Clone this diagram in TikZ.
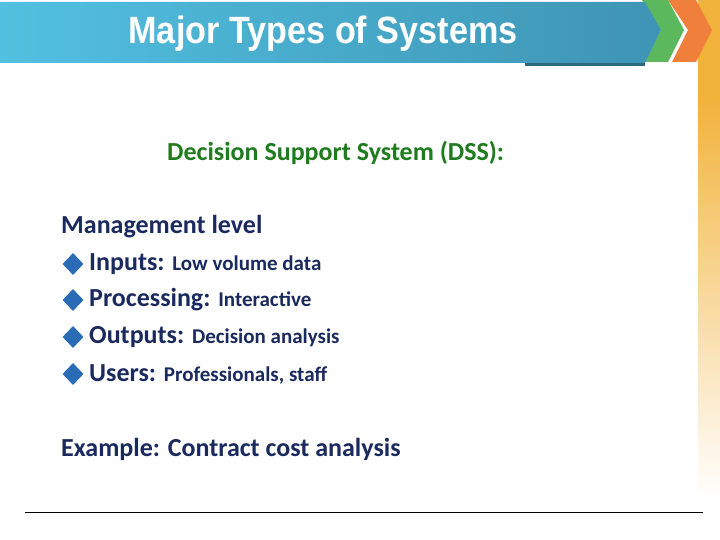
\documentclass[tikz,border=0pt]{standalone}
\usepackage{fontspec}
\setmainfont{Carlito}
\newfontfamily\titlefont{Liberation Sans}
\usetikzlibrary{shapes.geometric}
\definecolor{navy}{HTML}{1B2A5E}
\definecolor{dgreen}{HTML}{1E7B1E}
\definecolor{bblue}{HTML}{2A6BB5}
\definecolor{bannerL}{HTML}{52C0E0}
\definecolor{bannerR}{HTML}{3E94B4}
\definecolor{barc}{HTML}{F2B33D}
\definecolor{chevg}{HTML}{5CB85C}
\definecolor{chevo}{HTML}{F07F3C}
\tikzset{
 bl/.style={anchor=west,inner sep=0pt,text=navy,font=\bfseries\fontsize{26}{28}\selectfont},
 dia/.style={diamond,fill=bblue,minimum width=21pt,minimum height=22pt,inner sep=0pt}
}
\begin{document}
\begin{tikzpicture}[x=1pt,y=-1pt]
\useasboundingbox (0,0) rectangle (720,540);
\fill[white] (0,0) rectangle (720,540);
\fill[barc] (698,0) rectangle (720,100);
\shade[top color=barc, bottom color=white] (698,100) rectangle (720,500);
\fill[chevo] (668,0) -- (696,0) -- (712,30) -- (696,62) -- (672,62) -- (688,30) -- cycle;
\fill[chevg] (642,0) -- (668,0) -- (684,30) -- (668,62) -- (645,62) -- (661,30) -- cycle;
\shade[left color=bannerL,right color=bannerR] (0,2) -- (645,2) -- (661,30) -- (645,63) -- (0,63) -- cycle;
\fill[bannerR!70!black] (525,63) rectangle (645,66);
\node[inner sep=0pt,text=white] (title) at (323,34) {\scalebox{0.9}[1]{\titlefont\bfseries\fontsize{38}{40}\selectfont Major Types of Systems}};
\node[inner sep=0pt,anchor=west,text=dgreen,font=\bfseries\fontsize{26}{28}\selectfont] (dss) at (167,153) {Decision Support System (DSS):};
\node[bl] (mgmt) at (61,227) {Management level};
\node[dia] (d1) at (73,264) {};
\node[bl] (i1) at (89,264) {Inputs: {\fontsize{21}{24}\selectfont Low volume data}};
\node[dia] (d2) at (73,300) {};
\node[bl] (i2) at (89,300) {Processing: {\fontsize{21}{24}\selectfont Interactive}};
\node[dia] (d3) at (73,337) {};
\node[bl] (i3) at (89,337) {Outputs: {\fontsize{21}{24}\selectfont Decision analysis}};
\node[dia] (d4) at (73,374) {};
\node[bl] (i4) at (89,374) {Users: {\fontsize{21}{24}\selectfont Professionals, staff}};
\node[bl] (ex) at (61,449) {Example: Contract cost analysis};
\coordinate (la) at (25,512); \coordinate (lb) at (703,512);
\draw[black,line width=0.8pt] (la) -- (lb);
\end{tikzpicture}
\end{document}
